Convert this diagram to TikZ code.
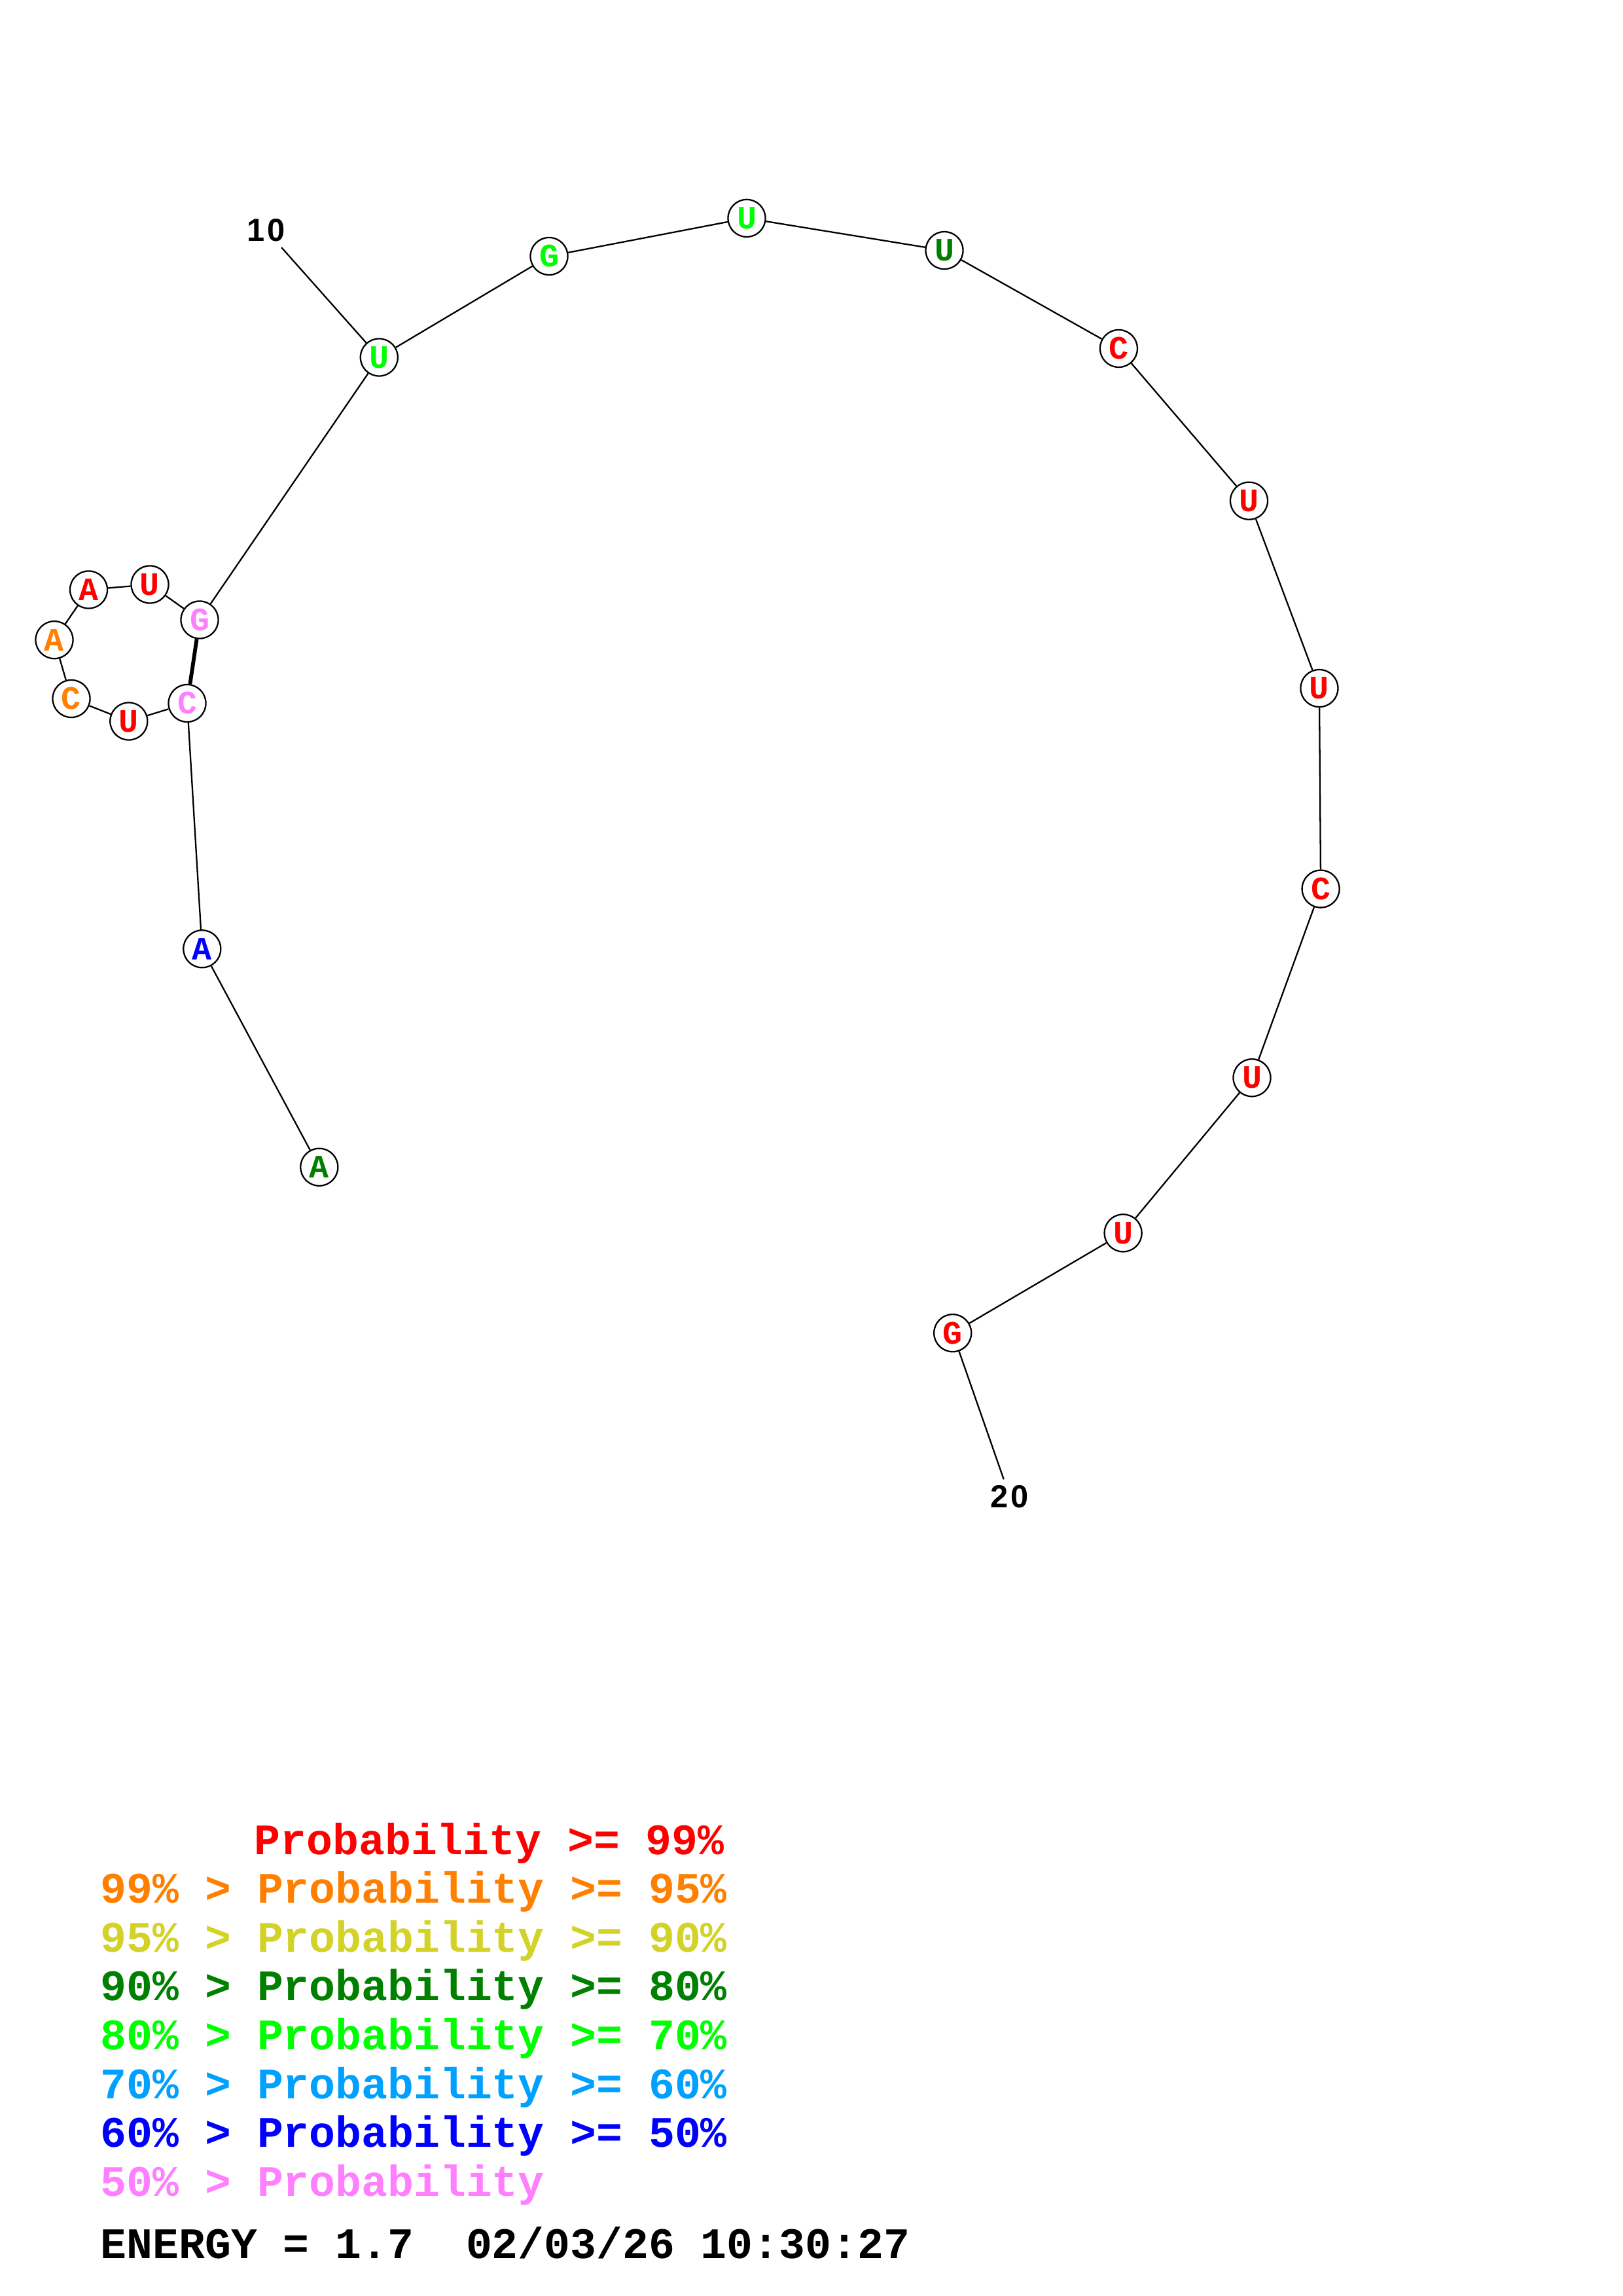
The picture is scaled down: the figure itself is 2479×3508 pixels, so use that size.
\documentclass[tikz,border=0pt]{standalone}
\usepackage{fontspec}
\setmainfont{Liberation Serif}
\newfontfamily\monob{Liberation Mono}[BoldFont={* Bold}]
\newfontfamily\labfont{Liberation Sans}[BoldFont={* Bold},LetterSpace=8]
\definecolor{cRed}{RGB}{255,0,0}
\definecolor{cOrange}{RGB}{255,128,0}
\definecolor{cYellow}{RGB}{210,210,40}
\definecolor{cDkGreen}{RGB}{0,128,0}
\definecolor{cGreen}{RGB}{0,255,0}
\definecolor{cLtBlue}{RGB}{0,160,255}
\definecolor{cBlue}{RGB}{0,0,255}
\definecolor{cPink}{RGB}{255,128,255}
\tikzset{
  base/.style={circle,draw=black,line width=0.55pt,fill=white,minimum size=13.7pt,inner sep=0pt,
    font=\monob\bfseries\fontsize{12}{12}\selectfont},
  bb/.style={line width=0.55pt},
  pairline/.style={line width=1.4pt},
  numlab/.style={inner sep=2pt,font=\labfont\bfseries\fontsize{11.7}{12}\selectfont},
  legend/.style={anchor=base west,inner sep=0pt,font=\monob\bfseries\fontsize{15.95}{16}\selectfont}
}
\begin{document}
\begin{tikzpicture}[x=0.24pt,y=-0.24pt]
\useasboundingbox (0,0) rectangle (2479,3508);
% nucleotides
\node[base,text=cDkGreen] (n1) at (487.8,1783.2) {A};
\node[base,text=cBlue] (n2) at (308.8,1449.8) {A};
\node[base,text=cPink] (n3) at (286.0,1074.5) {C};
\node[base,text=cRed] (n4) at (196.8,1102.0) {U};
\node[base,text=cOrange] (n5) at (109.0,1067.5) {C};
\node[base,text=cOrange] (n6) at (83.0,977.7) {A};
\node[base,text=cRed] (n7) at (135.5,901.0) {A};
\node[base,text=cRed] (n8) at (229.0,893.0) {U};
\node[base,text=cPink] (n9) at (305.0,947.0) {G};
\node[base,text=cGreen] (n10) at (579.3,546.0) {U};
\node[base,text=cGreen] (n11) at (839.0,391.5) {G};
\node[base,text=cGreen] (n12) at (1141.0,333.4) {U};
\node[base,text=cDkGreen] (n13) at (1443.0,382.6) {U};
\node[base,text=cRed] (n14) at (1709.4,532.5) {C};
\node[base,text=cRed] (n15) at (1908.5,765.2) {U};
\node[base,text=cRed] (n16) at (2015.9,1051.6) {U};
\node[base,text=cRed] (n17) at (2018.1,1358.1) {C};
\node[base,text=cRed] (n18) at (1913.0,1646.7) {U};
\node[base,text=cRed] (n19) at (1716.1,1883.9) {U};
\node[base,text=cRed] (n20) at (1455.7,2036.7) {G};
% backbone
\foreach \a/\b in {1/2,2/3,3/4,4/5,5/6,6/7,7/8,8/9,9/10,10/11,11/12,12/13,13/14,14/15,15/16,16/17,17/18,18/19,19/20}
  \draw[bb] (n\a) -- (n\b);
% base pair
\draw[pairline] (n3) -- (n9);
% position labels
\node[numlab] (lab10) at (406.7,351.7) {10};
\node[numlab] (lab20) at (1543.0,2286.7) {20};
\draw[bb] (lab10) -- (n10);
\draw[bb] (lab20) -- (n20);
% legend
\node[legend,text=cRed] (leg1) at (388,2833) {Probability >= 99\%};
\node[legend,text=cOrange] (leg2) at (153,2907.6) {99\% > Probability >= 95\%};
\node[legend,text=cYellow] (leg3) at (153,2982.2) {95\% > Probability >= 90\%};
\node[legend,text=cDkGreen] (leg4) at (153,3056.8) {90\% > Probability >= 80\%};
\node[legend,text=cGreen] (leg5) at (153,3131.4) {80\% > Probability >= 70\%};
\node[legend,text=cLtBlue] (leg6) at (153,3206.0) {70\% > Probability >= 60\%};
\node[legend,text=cBlue] (leg7) at (153,3280.6) {60\% > Probability >= 50\%};
\node[legend,text=cPink] (leg8) at (153,3355.2) {50\% > Probability};
\node[legend,text=black] (energy) at (153,3450) {ENERGY = 1.7~~02/03/26 10:30:27};
\end{tikzpicture}
\end{document}
